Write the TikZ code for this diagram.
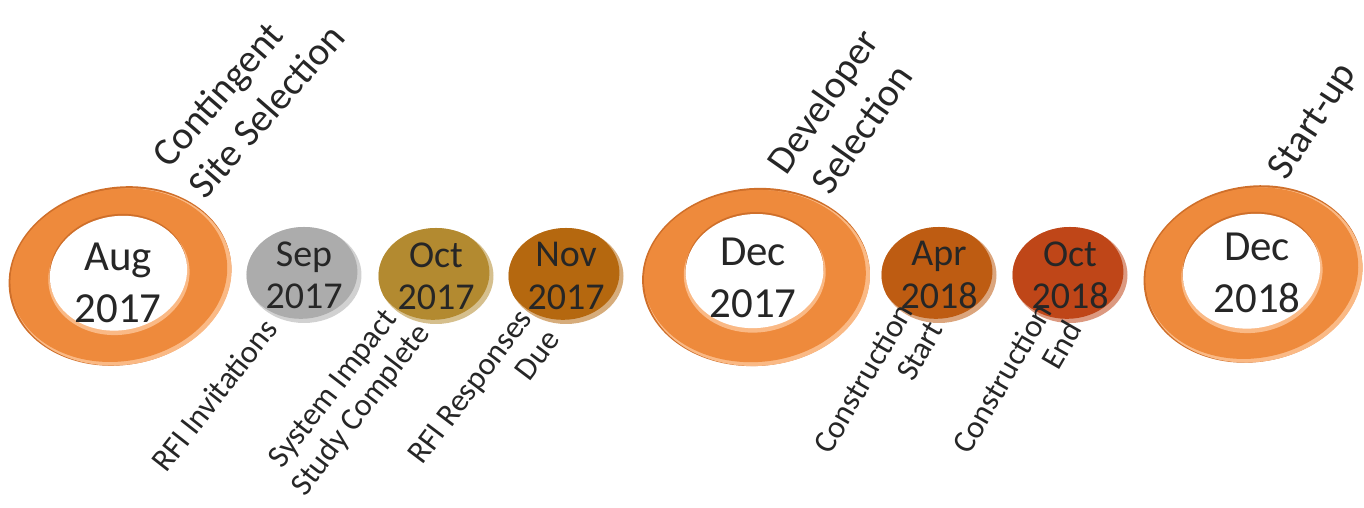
\documentclass[tikz,border=0pt]{standalone}
\usepackage{fontspec}
\setmainfont{Carlito}
\usepackage{xcolor}
\usepackage{tikz}
\usetikzlibrary{shapes.geometric}
\definecolor{cink}{HTML}{262626}
\definecolor{cring}{HTML}{EE8A3C}
\definecolor{cringlt}{HTML}{FAB985}
\definecolor{cringdk}{HTML}{CF6F2A}
\definecolor{csep}{HTML}{ACACAC}
\definecolor{coct}{HTML}{B38A30}
\definecolor{cnov}{HTML}{B5680F}
\definecolor{capr}{HTML}{BE5C12}
\definecolor{coctb}{HTML}{BF4618}
\tikzset{
  disc/.style={ellipse,minimum width=1.15cm,minimum height=0.96cm,inner sep=0pt,
    fill=#1!55!white,
    path picture={\fill[#1] ([xshift=-0.9pt,yshift=0.9pt]path picture bounding box.center)
      ellipse [x radius=0.566cm,y radius=0.470cm];},
    text=cink,align=center,font=\fontsize{10.8}{12}\selectfont},
  rtext/.style={text=cink,align=center,inner sep=0pt,font=\fontsize{12.2}{15}\selectfont},
  toplab/.style={text=cink,inner sep=0pt,font=\fontsize{11.2}{13.6}\selectfont},
  botlab/.style={text=cink,inner sep=0pt,align=right,font=\fontsize{9.1}{10}\selectfont},
}
\newcommand{\ringbody}[6]{% x, y, tilt, outer rx, outer ry, hole dy
  \begin{scope}[shift={(#1,#2)},rotate=#3]
    \fill[cringdk] (0,0) ellipse [x radius=#4,y radius=#5];
    \fill[cringlt] (0.012,-0.012) ellipse [x radius=#4-0.012,y radius=#5-0.012];
    \fill[cring] (-0.01,0.01) ellipse [x radius=#4-0.03,y radius=#5-0.03];
    \fill[cringlt] (-0.01,#6-0.025) ellipse [x radius=0.71,y radius=0.59];
    \fill[cringdk] (-0.01,#6+0.02) ellipse [x radius=0.69,y radius=0.57];
    \fill[white] (-0.01,#6) ellipse [x radius=0.69,y radius=0.57];
  \end{scope}}

\begin{document}
\begin{tikzpicture}
  \useasboundingbox (0,0) rectangle (13.64,5.08);

  % big milestones
  \ringbody{1.20}{2.32}{10}{1.12}{0.89}{0.03}
  \ringbody{7.56}{2.31}{4}{1.14}{0.89}{0.06}
  \ringbody{12.53}{2.34}{10}{1.10}{0.88}{0.03}
  \node[rtext] (aug17) at (1.18,2.25) {Aug\\2017};
  \node[rtext] (dec17) at (7.53,2.30) {Dec\\2017};
  \node[rtext] (dec18) at (12.57,2.35) {Dec\\2018};

  % small milestones
  \node[disc=csep]  (sep17) at (3.04,2.33) {Sep\\2017};
  \node[disc=coct]  (oct17) at (4.36,2.32) {Oct\\2017};
  \node[disc=cnov]  (nov17) at (5.66,2.32) {Nov\\2017};
  \node[disc=capr]  (apr18) at (9.39,2.33) {Apr\\2018};
  \node[disc=coctb] (oct18) at (10.70,2.33) {Oct\\2018};

  % labels above
  \node[toplab,rotate=49,align=left] (site) at (2.48,4.13) {Contingent\\Site Selection};
  \node[toplab,rotate=55,align=center] (dev) at (8.42,3.93) {Developer\\Selection};
  \node[toplab,rotate=57] (start) at (13.14,3.86) {Start-up};

  % labels below
  \node[botlab,rotate=52] (rfiinv) at (2.14,1.13) {RFI Invitations};
  \node[botlab,rotate=52.5,align=center] (sis) at (3.48,1.08) {System Impact\\Study Complete};
  \node[botlab,rotate=53] (rfiresp) at (4.84,1.11) {RFI Responses\\Due};
  \node[botlab,rotate=60] (cstart) at (8.78,1.21) {Construction\\Start};
  \node[botlab,rotate=60] (cend) at (10.17,1.21) {Construction\\End};
\end{tikzpicture}
\end{document}
